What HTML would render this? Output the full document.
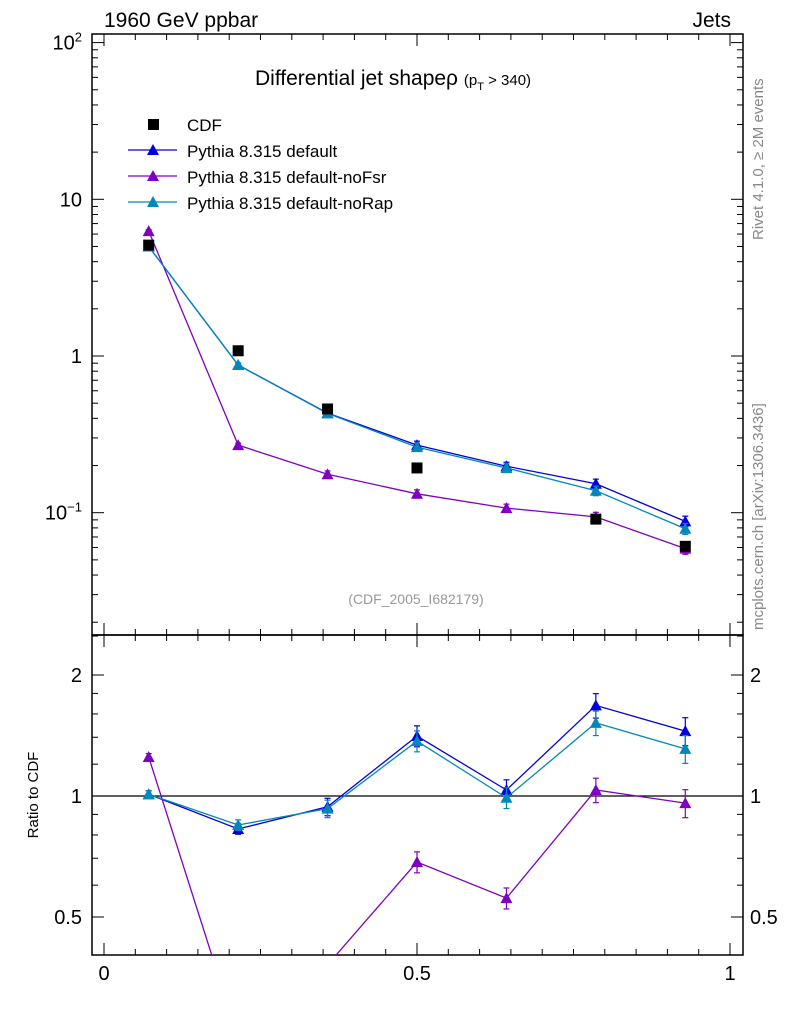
<!DOCTYPE html>
<html><head><meta charset="utf-8"><style>
body{margin:0;background:#fff}
svg{display:block;font-family:"Liberation Sans",sans-serif}
</style></head><body>
<svg id="c" width="786" height="1024" viewBox="0 0 786 1024"></svg>
<script>
const xCenters=[0.0714,0.2143,0.3571,0.5,0.6429,0.7857,0.9286];
const cdfVals=[5.1,1.08,0.459,0.193,0.193,0.091,0.061];
const defVals=[5.0,0.876,0.432,0.27,0.198,0.153,0.088];
const fsrVals=[6.27,0.27,0.176,0.132,0.107,0.094,0.059];
const rapVals=[5.0,0.876,0.43,0.262,0.193,0.138,0.079];
const defRatio=[1.01,0.828,0.94,1.41,1.035,1.68,1.45];
const fsrRatio=[1.25,0.25,0.38,0.685,0.557,1.035,0.96];
const rapRatio=[1.01,0.847,0.93,1.37,0.99,1.52,1.31];
const relErr=[0.02,0.03,0.05,0.06,0.06,0.07,0.08];
const yTicks=[0.1,1,10,100];
const rTicks=[0.5,1,2];
const xTicks=[0,0.5,1];

const svg=document.getElementById('c');
const NS='http://www.w3.org/2000/svg';
function mk(t,a,p){const e=document.createElementNS(NS,t);for(const k in a)e.setAttribute(k,a[k]);(p||svg).appendChild(e);return e;}
const L=92,R=743,T=34,M=635,B=955;
const X=v=>104+v*626;
const Y=v=>356-Math.log10(v)*156.7;
const YR=v=>796-Math.log2(v)*121;

const defs=mk('defs',{});
const c1=mk('clipPath',{id:'cm'},defs);mk('rect',{x:L,y:T,width:R-L,height:M-T},c1);
const c2=mk('clipPath',{id:'cr'},defs);mk('rect',{x:L,y:M,width:R-L,height:B-M},c2);

let f=mk('rect',{x:L,y:T,width:R-L,height:M-T,fill:'none',stroke:'#000','stroke-width':1.5});

f=mk('rect',{x:L,y:M,width:R-L,height:B-M,fill:'none',stroke:'#000','stroke-width':1.5});


for(let i=0;i<=20;i++){const v=i*0.05,x=X(v),len=(i%10==0)?12:6;
 mk('line',{x1:x,x2:x,y1:T,y2:T+len,stroke:'#000'});
 mk('line',{x1:x,x2:x,y1:M,y2:M-len,stroke:'#000'});
 mk('line',{x1:x,x2:x,y1:M,y2:M+len,stroke:'#000'});
 mk('line',{x1:x,x2:x,y1:B,y2:B-len,stroke:'#000'});}
xTicks.forEach(v=>{const t=mk('text',{x:X(v),y:980,'font-size':20,'text-anchor':'middle'});t.textContent=String(v);
 });

for(let d=-2;d<=2;d++)for(let m=1;m<10;m++){const v=m*Math.pow(10,d),y=Y(v);if(y<T||y>M)continue;
 const len=m==1?12:6;
 mk('line',{x1:L,x2:L+len,y1:y,y2:y,stroke:'#000'});mk('line',{x1:R,x2:R-len,y1:y,y2:y,stroke:'#000'});}
const yLab=['10<tspan dy="-8" font-size="13">−1</tspan>','1','10','10<tspan dy="-8" font-size="13">2</tspan>'];
yTicks.forEach((v,i)=>{const t=mk('text',{x:82,y:Y(v)+7,'font-size':20,'text-anchor':'end'});t.innerHTML=yLab[i];
 });

[0.5,0.6,0.7,0.8,0.9,1,1.2,1.4,1.6,1.8,2,2.5].forEach(v=>{const y=YR(v);if(y<M||y>B)return;const len=(v==0.5||v==1||v==2)?12:6;
 mk('line',{x1:L,x2:L+len,y1:y,y2:y,stroke:'#000'});mk('line',{x1:R,x2:R-len,y1:y,y2:y,stroke:'#000'});});
rTicks.forEach(v=>{let t=mk('text',{x:82,y:YR(v)+7,'font-size':20,'text-anchor':'end'});t.textContent=String(v);
 
 t=mk('text',{x:750,y:YR(v)+7,'font-size':20});t.textContent=String(v);
 });
mk('line',{x1:L,x2:R,y1:YR(1),y2:YR(1),stroke:'#000','stroke-width':1.2});

function txt(s,a,name){const t=mk('text',a);t.innerHTML=s;return t;}
txt('1960 GeV ppbar',{x:104,y:27,'font-size':21},'energy-label');
txt('Jets',{x:731,y:27,'font-size':21,'text-anchor':'end'},'process-label');
txt('Differential jet shapeρ <tspan font-size="15">(p</tspan><tspan font-size="11" dy="5">T</tspan><tspan font-size="15" dy="-5"> &gt; 340)</tspan>',{x:255,y:85,'font-size':21},'plot-title');
txt('(CDF_2005_I682179)',{x:416,y:604,'font-size':14,fill:'#999','text-anchor':'middle'},'analysis-id');
txt('Ratio to CDF',{x:0,y:0,'font-size':15,transform:'translate(38,795) rotate(-90)','text-anchor':'middle'},'ratio-axis-title');
txt('Rivet 4.1.0, ≥ 2M events',{x:0,y:0,'font-size':15,fill:'#888',transform:'translate(763,240) rotate(-90)'},'rivet-label');
txt('mcplots.cern.ch [arXiv:1306.3436]',{x:0,y:0,'font-size':15,fill:'#888',transform:'translate(763,630) rotate(-90)'},'mcplots-label');

const leg=[['CDF','#000',null],['Pythia 8.315 default','#0000dd',1],['Pythia 8.315 default-noFsr','#8000c0',1],['Pythia 8.315 default-noRap','#0088bb',1]];
leg.forEach((l,i)=>{const y=124+i*26;const g=mk('g',{});
 if(!l[2])mk('rect',{x:148,y:y-5,width:11,height:11,fill:'#000'},g);
 else{mk('line',{x1:128,x2:177,y1:y,y2:y,stroke:l[1],'stroke-width':1.3},g);tri(153,y,l[1],g);}
 const t=mk('text',{x:187,y:y+7,'font-size':17},g);t.textContent=l[0];});

function tri(x,y,c,p){mk('polygon',{points:`${x-6},${y+5} ${x+6},${y+5} ${x},${y-6}`,fill:c},p);}

function series(vals,Yf,color,clip,name){
 const g=mk('g',{'clip-path':`url(#${clip})`});
 mk('polyline',{points:vals.map((v,i)=>X(xCenters[i])+','+Yf(v)).join(' '),fill:'none',stroke:color,'stroke-width':1.3},g);
 vals.forEach((v,i)=>{const x=X(xCenters[i]);const e=relErr[i];const y1=Yf(v*(1+e)),y2=Yf(v*(1-e));
  mk('line',{x1:x,x2:x,y1:y1,y2:y2,stroke:color,'stroke-width':1.2},g);
  mk('line',{x1:x-3,x2:x+3,y1:y1,y2:y1,stroke:color,'stroke-width':1.2},g);
  mk('line',{x1:x-3,x2:x+3,y1:y2,y2:y2,stroke:color,'stroke-width':1.2},g);
  tri(x,Yf(v),color,g);});
}
series(defVals,Y,'#0000dd','cm','series-default');
series(fsrVals,Y,'#8000c0','cm','series-noFsr');
series(rapVals,Y,'#0088bb','cm','series-noRap');
const cg=mk('g',{'clip-path':'url(#cm)'});
cdfVals.forEach((v,i)=>{if(i==4)return;const r=mk('rect',{x:X(xCenters[i])-5.5,y:Y(v)-5.5,width:11,height:11,fill:'#000'},cg);
 });
series(defRatio,YR,'#0000dd','cr','ratio-default');
series(fsrRatio,YR,'#8000c0','cr','ratio-noFsr');
series(rapRatio,YR,'#0088bb','cr','ratio-noRap');
</script>
</body></html>
